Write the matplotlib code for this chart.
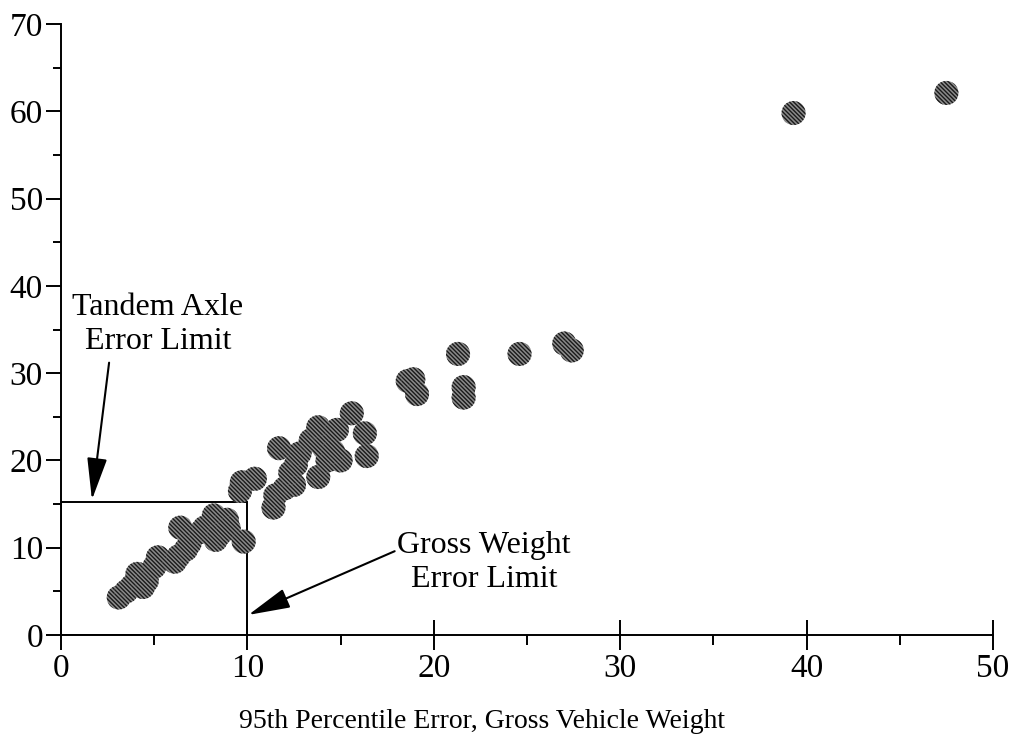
import matplotlib
matplotlib.use("Agg")
import matplotlib.pyplot as plt
from matplotlib.patches import Rectangle

# ---- data ----
x_err = [3.1, 3.5, 3.8, 4.1, 4.4, 4.6, 5.0, 5.2, 6.1, 6.3, 6.7, 6.4, 6.9, 7.5, 7.7,
         8.2, 8.3, 8.5, 8.9, 9.0, 9.8,
         9.6, 9.7, 10.4, 11.4, 11.5, 12.0, 12.5, 12.3, 12.6, 12.8, 11.7, 13.4, 13.8,
         14.1, 13.8, 14.3, 14.8, 15.0, 14.6, 15.6, 16.3, 16.4,
         18.6, 18.9, 19.1, 21.3, 21.6, 21.6, 24.6, 27.0, 27.4, 39.3, 47.5]
y_err = [4.3, 5.0, 5.6, 7.0, 5.5, 6.2, 7.8, 8.9, 8.4, 9.0, 9.8, 12.3, 10.5, 11.8, 12.3,
         13.7, 10.9, 11.5, 13.2, 12.2, 10.7,
         16.5, 17.5, 17.9, 14.6, 16.0, 16.8, 17.2, 18.6, 19.5, 20.8, 21.4, 22.3, 23.8,
         21.5, 18.1, 20.0, 23.5, 20.0, 21.0, 25.4, 23.1, 20.5,
         29.1, 29.3, 27.6, 32.2, 28.4, 27.2, 32.2, 33.4, 32.6, 59.8, 62.1]

x_ticks = [0, 10, 20, 30, 40, 50]
y_ticks = [0, 10, 20, 30, 40, 50, 60, 70]
x_label = "95th Percentile Error, Gross Vehicle Weight"

tandem_limit = 15.2   # tandem axle error limit (y)
gross_limit = 10.0    # gross weight error limit (x)

plt.rcParams['font.family'] = ['Liberation Serif', 'DejaVu Serif']
plt.rcParams['hatch.linewidth'] = 1.0

fig = plt.figure(figsize=(10.15, 7.4), dpi=100)
ax = fig.add_axes([61/1015, 1 - 635/740, (993-61)/1015, (635-24)/740])

ax.scatter(x_err, y_err, s=300, marker='o', facecolor='#8a8a8a', edgecolor='#1a1a1a',
           linewidths=0, hatch='\\\\\\\\\\\\\\\\', zorder=3)

ax.add_patch(Rectangle((0, 0), gross_limit, tandem_limit, fill=False,
                       edgecolor='black', lw=1.4, zorder=2))

ax.set_xlim(0, 50)
ax.set_ylim(0, 70)
ax.set_xticks(x_ticks)
ax.set_yticks(y_ticks)
ax.set_xticks([5, 15, 25, 35, 45], minor=True)
ax.set_yticks([5, 15, 25, 35, 45, 55, 65], minor=True)

for s in ['top', 'right']:
    ax.spines[s].set_visible(False)
for s in ['left', 'bottom']:
    ax.spines[s].set_linewidth(1.4)

ax.tick_params(axis='x', which='major', direction='inout', length=22, width=1.4,
               labelsize=24, pad=2)
ax.tick_params(axis='x', which='minor', direction='out', length=7, width=1.4)
ax.tick_params(axis='y', which='major', direction='out', length=11, width=1.4,
               labelsize=24, pad=2)
ax.tick_params(axis='y', which='minor', direction='out', length=6, width=1.4)

ax.set_xlabel(x_label, fontsize=20)
ax.xaxis.set_label_coords((482-61)/932, (635-721)/611)
ax.xaxis.label.set_va('center')

arrow = dict(arrowstyle='-|>,head_length=2.6,head_width=0.62', mutation_scale=10,
             lw=1.5, color='black', shrinkA=0, shrinkB=0)

ax.text(5.2, 35.6, "Tandem Axle\nError Limit", fontsize=23, ha='center', va='center',
        multialignment='center', linespacing=1.25)
ax.annotate('', xy=(1.66, 15.5), xytext=(2.58, 31.2), arrowprops=arrow)

ax.text(22.7, 8.3, "Gross Weight\nError Limit", fontsize=23, ha='center', va='center',
        multialignment='center', linespacing=1.25)
ax.annotate('', xy=(10.05, 2.3), xytext=(17.9, 9.6), arrowprops=arrow)

fig.savefig("out.png", dpi=100)
